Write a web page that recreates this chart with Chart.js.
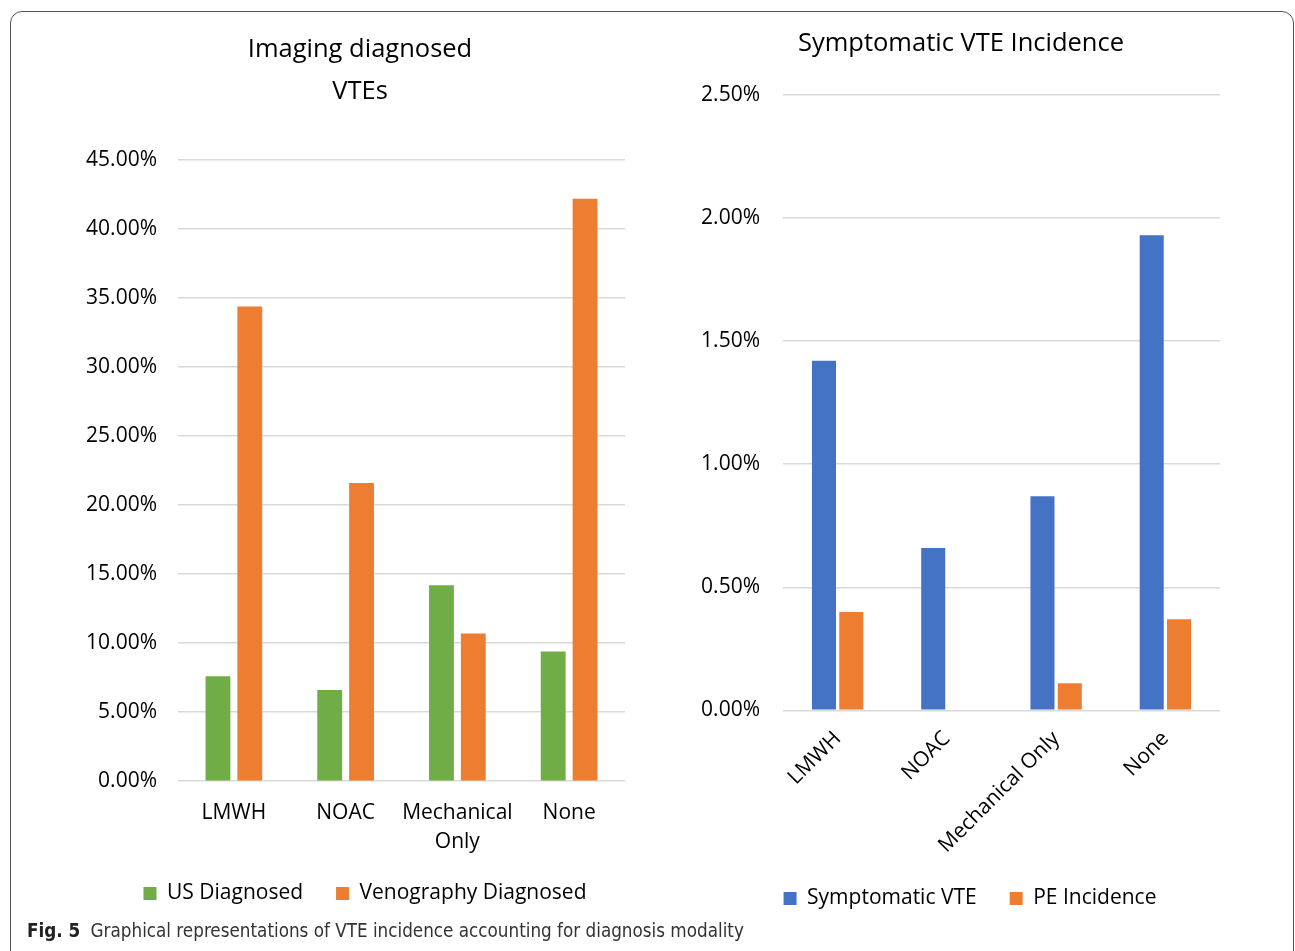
<!DOCTYPE html>
<html>
<head>
<meta charset="utf-8">
<script src="https://cdn.jsdelivr.net/npm/chart.js@4.4.1/dist/chart.umd.min.js"></script>
<style>
  html, body { margin: 0; padding: 0; background: #fff; }
  body { width: 1295px; height: 951px; position: relative; overflow: hidden; }
  #frame { position: absolute; left: 10px; top: 11px; width: 1284px; height: 960px;
    border: 1.5px solid #555; border-radius: 12px; box-sizing: border-box; }
  .box { position: absolute; }
  #leftBox { left: 20px; top: 11px; width: 680px; height: 919px; }
  #rightBox { left: 680px; top: 11px; width: 570px; height: 919px; }
  #caption { position: absolute; left: 27px; top: 920px; font-family: "DejaVu Sans Condensed", sans-serif;
    font-size: 18.7px; color: #333; white-space: nowrap; }
  #caption b { color: #222; margin-right: 5px; }
</style>
</head>
<body>
<div id="frame"></div>
<div class="box" id="leftBox"><canvas id="imagingChart"></canvas></div>
<div class="box" id="rightBox"><canvas id="symptomChart"></canvas></div>
<div id="caption"><b>Fig. 5</b> Graphical representations of VTE incidence accounting for diagnosis modality</div>
<script>
// categories
const imagingLabels = ['LMWH', 'NOAC', ['Mechanical', 'Only'], 'None'];
const symptomLabels = ['LMWH', 'NOAC', 'Mechanical Only', 'None'];

// left chart (percent)
const usDiagnosed = [7.6, 6.6, 14.2, 9.4];
const venographyDiagnosed = [34.4, 21.6, 10.7, 42.2];

// right chart (percent)
const symptomaticVTE = [1.42, 0.66, 0.87, 1.93];
const peIncidence = [0.40, 0, 0.11, 0.37];

const FONT = "'Open Sans', 'Noto Sans', sans-serif";
const GREEN = '#70AD47', ORANGE = '#ED7D31', BLUE = '#4472C4';
const GRID = '#d9d9d9';

Chart.defaults.font.family = FONT;
Chart.defaults.color = '#000';

function pct(v) { return Number(v).toFixed(2) + '%'; }

// nudge title / legend boxes after layout (Excel centres them a bit differently)
const nudge = {
  id: 'nudge',
  afterLayout(chart, args, opts) {
    const t = chart.titleBlock, lg = chart.legend;
    if (t) { t.left += opts.titleDx; t.right += opts.titleDx; }
    if (lg) {
      lg.left += opts.legendDx; lg.right += opts.legendDx;
      lg.top -= opts.legendUp; lg.bottom -= opts.legendUp;
    }
  }
};

function fixWidth(w) {
  return function (scale) { scale.width = w; };
}

new Chart(document.getElementById('imagingChart'), {
  type: 'bar',
  plugins: [nudge],
  data: {
    labels: imagingLabels,
    datasets: [
      { label: 'US Diagnosed', data: usDiagnosed, backgroundColor: GREEN,
        categoryPercentage: 0.57, barPercentage: 0.78 },
      { label: 'Venography Diagnosed', data: venographyDiagnosed, backgroundColor: ORANGE,
        categoryPercentage: 0.57, barPercentage: 0.78 }
    ]
  },
  options: {
    responsive: true,
    maintainAspectRatio: false,
    animation: false,
    layout: { padding: { left: 63, right: 75, top: 0, bottom: 0 } },
    plugins: {
      nudge: { titleDx: 6, legendDx: 11, legendUp: 16 },
      title: {
        display: true,
        text: ['Imaging diagnosed', 'VTEs'],
        font: { size: 25.5, weight: 'normal', lineHeight: 1.65 },
        color: '#000',
        padding: { top: 18, bottom: 47 }
      },
      legend: {
        position: 'bottom',
        labels: { boxWidth: 13, boxHeight: 13, padding: 33, font: { size: 21 } }
      },
      tooltip: { enabled: false }
    },
    scales: {
      x: {
        grid: { display: false },
        border: { display: false },
        ticks: { font: { size: 21, lineHeight: 1.4 }, padding: 9, maxRotation: 0, autoSkip: false }
      },
      y: {
        min: 0, max: 45,
        afterFit: fixWidth(95),
        grid: { color: GRID, lineWidth: 1.5, drawTicks: false },
        border: { display: false },
        ticks: { stepSize: 5, font: { size: 21 }, padding: 21, callback: pct }
      }
    }
  }
});

new Chart(document.getElementById('symptomChart'), {
  type: 'bar',
  plugins: [nudge],
  data: {
    labels: symptomLabels,
    datasets: [
      { label: 'Symptomatic VTE', data: symptomaticVTE, backgroundColor: BLUE,
        categoryPercentage: 0.5, barPercentage: 0.88 },
      { label: 'PE Incidence', data: peIncidence, backgroundColor: ORANGE,
        categoryPercentage: 0.5, barPercentage: 0.88 }
    ]
  },
  options: {
    responsive: true,
    maintainAspectRatio: false,
    animation: false,
    layout: { padding: { left: 17, right: 30, top: 0, bottom: 0 } },
    plugins: {
      nudge: { titleDx: 2.5, legendDx: 11.5, legendUp: 11 },
      title: {
        display: true,
        text: 'Symptomatic VTE Incidence',
        font: { size: 25.5, weight: 'normal', lineHeight: 1.65 },
        color: '#000',
        padding: { top: 12, bottom: 30 }
      },
      legend: {
        position: 'bottom',
        labels: { boxWidth: 13, boxHeight: 13, padding: 33, font: { size: 21 } }
      },
      tooltip: { enabled: false }
    },
    scales: {
      x: {
        grid: { display: false },
        border: { display: false },
        ticks: { font: { size: 21 }, padding: 8, minRotation: 45, maxRotation: 45, autoSkip: false }
      },
      y: {
        min: 0, max: 2.5,
        afterFit: fixWidth(86),
        grid: { color: GRID, lineWidth: 1.5, drawTicks: false },
        border: { display: false },
        ticks: { stepSize: 0.5, font: { size: 21 }, padding: 23, callback: pct }
      }
    }
  }
});
</script>
</body>
</html>
